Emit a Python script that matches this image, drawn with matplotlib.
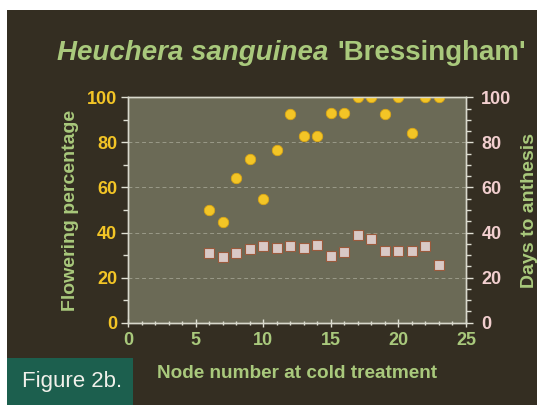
import matplotlib
matplotlib.use("Agg")
import matplotlib.pyplot as plt
from matplotlib.patches import Rectangle
from matplotlib.ticker import MultipleLocator

nodes_flower = [6, 7, 8, 9, 10, 11, 12, 13, 14, 15, 16, 17, 18, 19, 20, 21, 22, 23]
flowering_pct = [50, 44.5, 64, 72.5, 55, 76.5, 92.5, 83, 83, 93, 93, 100, 100, 92.5, 100, 84, 100, 100]

nodes_days = [6, 7, 8, 9, 10, 11, 12, 13, 14, 15, 16, 17, 18, 19, 20, 21, 22, 23]
days_anthesis = [31, 29.3, 31, 32.7, 34.2, 33.3, 34.2, 33.1, 34.3, 29.6, 31.4, 38.8, 37, 31.8, 31.8, 31.8, 34.2, 25.5]

x_ticks = [0, 5, 10, 15, 20, 25]
y_ticks = [0, 20, 40, 60, 80, 100]

FONT = "Liberation Sans"
plt.rcParams["font.family"] = [FONT, "DejaVu Sans"]
plt.rcParams["font.weight"] = "bold"

BG = "#342e22"
PLOT_BG = "#6b6a56"
GREEN = "#a9c97c"
YELLOW = "#f3c526"
PINK = "#f2cfcf"
TICKLAB = 13

fig = plt.figure(figsize=(5.37, 4.05), dpi=100)
fig.patch.set_facecolor("white")
fig.add_artist(Rectangle((7 / 537, 0), 1, 1 - 10 / 405, transform=fig.transFigure,
                         facecolor=BG, edgecolor="none", zorder=-10))
fig.add_artist(Rectangle((7 / 537, 0), (133 - 7) / 537, (405 - 358) / 405,
                         transform=fig.transFigure, facecolor="#1c5f4e",
                         edgecolor="none", zorder=-5))
fig.text(72 / 537, 1 - 382 / 405, "Figure 2b.", color="#f0f0ea", fontsize=16,
         family=FONT, fontweight="normal", ha="center", va="center")

ax = fig.add_axes([128.3 / 537, 1 - 322.7 / 405, (466 - 128.3) / 537, (322.7 - 97.3) / 405])
ax.set_facecolor(PLOT_BG)
ax.set_xlim(0, 25)
ax.set_ylim(0, 100)
ax.set_xticks(x_ticks)
ax.set_yticks(y_ticks)
ax.xaxis.set_minor_locator(MultipleLocator(1))
ax.yaxis.set_minor_locator(MultipleLocator(10))
for y in y_ticks[1:-1]:
    ax.axhline(y, color="#9a9a88", lw=0.7, ls=(0, (4, 3)), zorder=1)

ax.plot(nodes_flower, flowering_pct, ls="none", marker="o", ms=7.5,
        mfc=YELLOW, mec="#d9a514", mew=0.6, zorder=5)

for s in ax.spines.values():
    s.set_color("#d8d8cc")
    s.set_linewidth(1.0)

ax.tick_params(axis="y", which="both", direction="out", colors="#e0e0d4",
               labelcolor=YELLOW, length=5, width=1.0, labelsize=TICKLAB, pad=3)
ax.tick_params(axis="y", which="minor", length=3.5)
ax.tick_params(axis="x", which="both", direction="inout", colors="#e0e0d4",
               labelcolor=GREEN, length=6, width=1.0, labelsize=TICKLAB, pad=4)
ax.tick_params(axis="x", which="minor", length=3.5)
for lab in ax.get_xticklabels() + ax.get_yticklabels():
    lab.set_fontproperties({"family": FONT, "weight": "bold", "size": TICKLAB})

ax.set_xlabel("Node number at cold treatment", color=GREEN, fontsize=13.7,
              family=FONT, fontweight="bold", labelpad=11)
ax.set_ylabel("Flowering percentage", color=GREEN, fontsize=14,
              family=FONT, fontweight="bold", labelpad=6)

ax2 = ax.twinx()
ax2.set_ylim(0, 100)
ax2.set_yticks(y_ticks)
ax2.yaxis.set_minor_locator(MultipleLocator(5))
ax2.plot(nodes_days, days_anthesis, ls="none", marker="s", ms=7,
         mfc="#d9c9c6", mec="#9a5a3c", mew=0.8, zorder=5)
for s in ax2.spines.values():
    s.set_color("#d8d8cc")
    s.set_linewidth(1.0)
ax2.tick_params(axis="y", which="both", direction="out", colors="#e0e0d4",
                labelcolor=PINK, length=5, width=1.0, labelsize=TICKLAB, pad=6)
ax2.tick_params(axis="y", which="minor", length=3.5)
for lab in ax2.get_yticklabels():
    lab.set_fontproperties({"family": FONT, "weight": "bold", "size": TICKLAB})
ax2.set_ylabel("Days to anthesis", color=GREEN, fontsize=14,
               family=FONT, fontweight="bold", labelpad=7)

t1 = fig.text(57 / 537, 1 - 60 / 405, "Heuchera sanguinea", color=GREEN, fontsize=20,
              family=FONT, fontweight="bold", style="italic", ha="left", va="baseline")
fig.canvas.draw()
bb = t1.get_window_extent()
fig.text((bb.x1 + 9) / fig.bbox.width, 1 - 60 / 405, "'Bressingham'", color=GREEN,
         fontsize=20, family=FONT, fontweight="bold", ha="left", va="baseline")

fig.savefig("out.png", dpi=100, facecolor=fig.get_facecolor())
